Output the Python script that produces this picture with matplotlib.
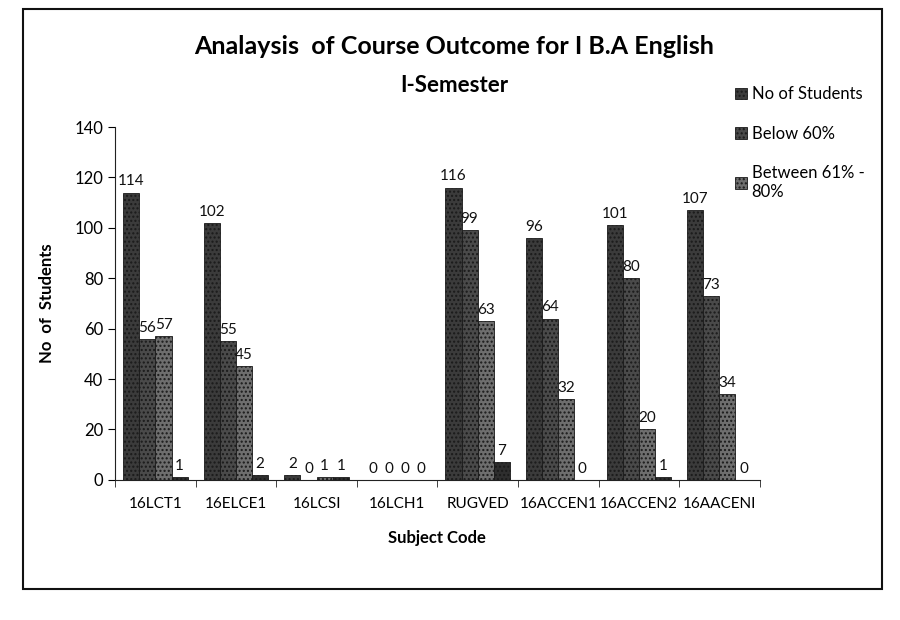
"""Course outcome analysis bar chart (I B.A English, I-Semester)."""

import matplotlib.pyplot as plt
import numpy as np
from matplotlib.patches import Rectangle

plt.rcParams["font.family"] = ["Lato", "DejaVu Sans"]

subjects = ["16LCT1", "16ELCE1", "16LCSI", "16LCH1", "RUGVED",
            "16ACCEN1", "16ACCEN2", "16AACENI"]
no_of_students = [114, 102, 2, 0, 116, 96, 101, 107]
below_60 = [56, 55, 0, 0, 99, 64, 80, 73]
between_61_80 = [57, 45, 1, 0, 63, 32, 20, 34]
above_80 = [1, 2, 1, 0, 7, 0, 1, 0]

series = [
    ("No of Students", no_of_students, "#3b3b3b"),
    ("Below 60%", below_60, "#4a4a4a"),
    ("Between 61% -\n80%", between_61_80, "#6e6e6e"),
    (None, above_80, "#2e2e2e"),
]

figure = plt.figure(figsize=(9, 6.2), dpi=100)
axis = figure.add_axes([0.128, 0.226, 0.716, 0.569])

x = np.arange(len(subjects))
width = 0.2
handles = []
for i, (label, values, color) in enumerate(series):
    offset = (i - 1.5) * width
    bars = axis.bar(x + offset, values, width, color=color,
                    edgecolor="#1a1a1a", linewidth=0.6, hatch="....",
                    label=label if label else "_nolegend_")
    axis.bar_label(bars, padding=3, fontsize=11, color="#111111")
    if label:
        handles.append(bars)

axis.set_ylim(0, 140)
axis.set_yticks(range(0, 141, 20))
axis.set_xlim(-0.5, len(subjects) - 0.5)
axis.set_xticks(x)
axis.set_xticklabels(subjects, fontsize=11)
axis.set_xticks(np.arange(-0.5, len(subjects)), minor=True)
axis.tick_params(axis="x", which="major", length=0, pad=12)
axis.tick_params(axis="x", which="minor", length=5, color="#222222")
axis.tick_params(axis="y", labelsize=12, length=5)
for side in ("top", "right"):
    axis.spines[side].set_visible(False)
axis.spines["left"].set_color("#222222")
axis.spines["bottom"].set_color("#222222")

axis.set_xlabel("Subject Code", fontsize=12, fontweight="bold", labelpad=14)
axis.set_ylabel("No  of  Students", fontsize=12, fontweight="bold", labelpad=14)

figure.text(0.505, 0.925, "Analaysis  of Course Outcome for I B.A English",
            ha="center", va="center", fontsize=18, fontweight="bold")
figure.text(0.505, 0.862, "I-Semester", ha="center", va="center",
            fontsize=16, fontweight="bold")

figure.legend(handles=handles, loc="upper left", bbox_to_anchor=(0.80, 0.885),
              frameon=False, fontsize=12, labelspacing=1.4, handlelength=0.7,
              handleheight=0.7, handletextpad=0.3)

figure.patches.append(Rectangle((0.025, 0.05), 0.955, 0.935, fill=False,
                                edgecolor="#111111", linewidth=1.5,
                                transform=figure.transFigure))

figure.savefig("out.png", dpi=100)
plt.close(figure)
